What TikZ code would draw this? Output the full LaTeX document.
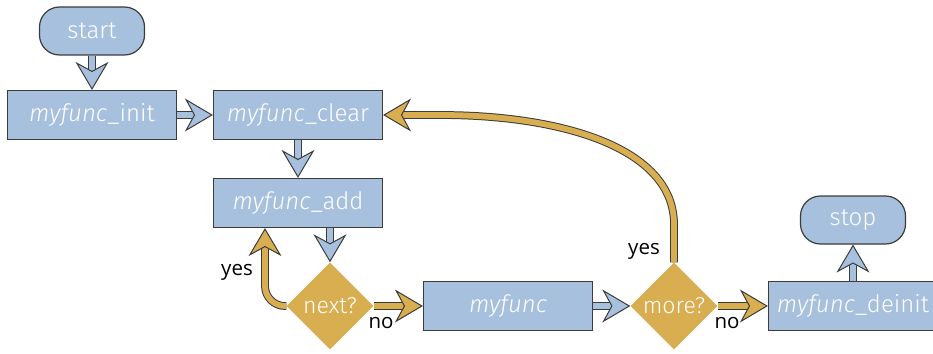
\documentclass[tikz,border=0pt]{standalone}
\usepackage{fontspec}
\newfontfamily\nodefont{Fira Sans Light}
\newfontfamily\labfont{Open Sans}
\usetikzlibrary{arrows.meta,shapes.geometric}
\definecolor{boxblue}{HTML}{A7C0DE}
\definecolor{gold}{HTML}{D9AE50}
\definecolor{edge}{HTML}{3C3C3C}
\begin{document}
\begin{tikzpicture}[x=1pt,y=-1pt,
  box/.style={rectangle, fill=boxblue, draw=edge, line width=1.2pt, minimum width=169pt, minimum height=49pt, text=white, font=\nodefont\fontsize{24}{28}\selectfont, inner sep=0pt},
  term/.style={box, rounded corners=20pt, minimum width=105pt, minimum height=48pt},
  decision/.style={diamond, fill=gold, minimum width=87pt, minimum height=87pt, inner sep=0pt, text=white, font=\nodefont\fontsize{23}{27}\selectfont},
  lab/.style={font=\labfont\fontsize{20.5}{24}\selectfont, text=black},
  conn/.style={draw=edge, line width=1pt, double=#1, double distance=5.8pt, -{Stealth[length=28pt, width=33pt, inset=9pt, fill=#1, color=edge]}},
]
\useasboundingbox (0,0) rectangle (933,353);
\node[term] (start) at (92,31) {start};
\node[box] (init) at (92,115) {\textit{myfunc}\_init};
\node[box] (clear) at (298,115) {\textit{myfunc}\_clear};
\node[box] (add) at (298,203) {\textit{myfunc}\_add};
\node[decision] (next) at (330,306) {next?};
\node[box] (func) at (508,306) {\textit{myfunc}};
\node[decision] (more) at (674,306) {more?};
\node[box] (deinit) at (853,306) {\textit{myfunc}\_deinit};
\node[term] (stop) at (853,220) {stop};
\coordinate (yesx) at (265,0);
\coordinate (c1) at (674,148);
\coordinate (c2) at (562,115);
\coordinate (bend) at (440,115);
\draw[conn=boxblue] (start) -- (init);
\draw[conn=boxblue] (init) -- (clear);
\draw[conn=boxblue] (clear) -- (add);
\draw[conn=boxblue] (add.south -| next) -- (next.north);
\draw[conn=gold, rounded corners=20pt] (next.west) -| (add.south -| yesx);
\draw[conn=gold] (next.east) -- (func.west);
\draw[conn=boxblue] (func.east) -- (more.west);
\draw[conn=gold] (more.east) -- (deinit.west);
\draw[conn=boxblue] (deinit.north) -- (stop.south);
\draw[conn=gold] (more.north) -- ++(0,-38) .. controls (c1) and (c2) .. (bend) -- (clear.east);
\node[lab] (y1) at (237,272) {yes};
\node[lab] (n1) at (381,323) {no};
\node[lab] (y2) at (644,251) {yes};
\node[lab] (n2) at (727,323) {no};
\end{tikzpicture}
\end{document}
